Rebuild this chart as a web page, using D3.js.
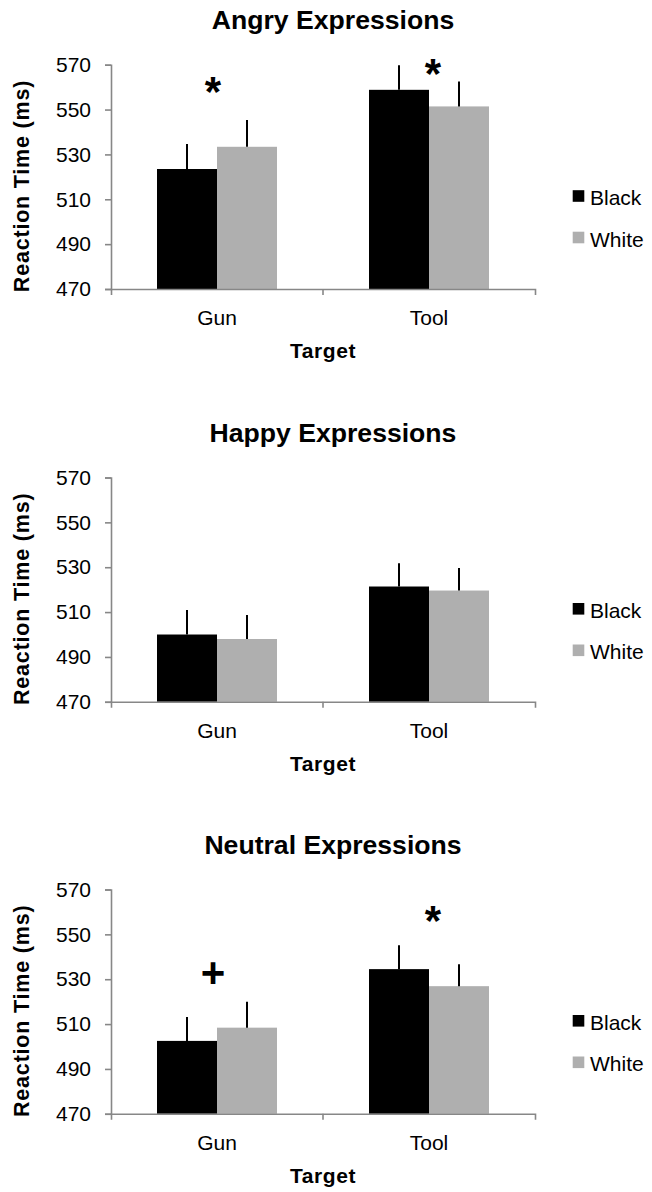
<!DOCTYPE html>
<html><head><meta charset="utf-8">
<script src="https://cdn.jsdelivr.net/npm/d3@7"></script>
<style>
body{margin:0;background:#fff}
svg{display:block;background:#fff}
text{font-family:"Liberation Sans",Arial,sans-serif;fill:#000}
</style>
</head><body>
<svg id="chart" width="652" height="1192"></svg>
<script>
// ---- data ----
const categories = ["Gun", "Tool"];
const seriesNames = ["Black", "White"];
const panelTitles = ["Angry Expressions", "Happy Expressions", "Neutral Expressions"];
const yTicks = [470, 490, 510, 530, 550, 570];
const yTitle = "Reaction Time (ms)";
const xTitle = "Target";

const angryBlack = [523.5, 558.8];
const angryWhite = [533.4, 551.4];
const angryBlackErr = [11.2, 11.0];
const angryWhiteErr = [12.0, 11.1];
const angryMarks = ["*", "*"];
const angryMarkLevels = [561.8, 569.8];

const happyBlack = [500.0, 521.4];
const happyWhite = [498.0, 519.6];
const happyBlackErr = [10.9, 10.4];
const happyWhiteErr = [10.7, 10.0];
const happyMarks = ["", ""];
const happyMarkLevels = [0, 0];

const neutralBlack = [502.5, 534.5];
const neutralWhite = [508.4, 526.9];
const neutralBlackErr = [10.7, 10.7];
const neutralWhiteErr = [11.6, 9.8];
const neutralMarks = ["+", "*"];
const neutralMarkLevels = [533.3, 559.9];

const panels = [
  {title: panelTitles[0], vals: [angryBlack, angryWhite], errs: [angryBlackErr, angryWhiteErr], marks: angryMarks, levels: angryMarkLevels},
  {title: panelTitles[1], vals: [happyBlack, happyWhite], errs: [happyBlackErr, happyWhiteErr], marks: happyMarks, levels: happyMarkLevels},
  {title: panelTitles[2], vals: [neutralBlack, neutralWhite], errs: [neutralBlackErr, neutralWhiteErr], marks: neutralMarks, levels: neutralMarkLevels}
];

// ---- layout ----
const colors = {Black: "#000000", White: "#afafaf"};
const axisColor = "#878787";
const offsets = [0, 412.8, 824.8];
const plotLeft = 111, plotRight = 535, plotTop = 64.7, plotBottom = 289;
const groupW = 120;

const svg = d3.select("#chart");

const x = d3.scaleBand().domain(categories).range([plotLeft, plotRight]);
const x1 = d3.scaleBand().domain(seriesNames).range([0, groupW]);

panels.forEach((p, pi) => {
  const o = offsets[pi];
  const g = svg.append("g");
  const y = d3.scaleLinear().domain([yTicks[0], yTicks[yTicks.length - 1]]).range([plotBottom + o, plotTop + o]);

  // title
  g.append("text").attr("x", 333).attr("y", o + 29.3)
    .attr("text-anchor", "middle").style("font-size", "26.6px").style("font-weight", "bold")
    .text(p.title);

  // y axis
  const ya = g.append("g").attr("transform", `translate(${plotLeft},0)`)
    .call(d3.axisLeft(y).tickValues(yTicks).tickSize(6).tickPadding(14).tickFormat(d3.format("d")));
  ya.selectAll("path,line").attr("stroke", axisColor).attr("stroke-width", 1.6);
  ya.selectAll("text").style("font-size", "21px").style("font-family", '"Liberation Sans",Arial,sans-serif').attr("fill", "#000");

  // y title
  g.append("text")
    .attr("transform", `translate(28.5,${o + 186}) rotate(-90)`)
    .attr("text-anchor", "middle")
    .style("font-size", "21.5px").style("font-weight", "bold").style("letter-spacing", "0.8px")
    .text(yTitle);

  // bars
  categories.forEach((c, ci) => {
    const gx = x(c) + x.bandwidth() / 2 - groupW / 2;
    seriesNames.forEach((s, si) => {
      const v = p.vals[si][ci];
      g.append("rect")
        .attr("x", gx + x1(s)).attr("width", x1.bandwidth())
        .attr("y", y(v)).attr("height", y(yTicks[0]) - y(v))
        .attr("fill", colors[s]);
    });
    seriesNames.forEach((s, si) => {
      const v = p.vals[si][ci], e = p.errs[si][ci];
      const cx = gx + x1(s) + x1.bandwidth() / 2;
      g.append("line").attr("x1", cx).attr("x2", cx)
        .attr("y1", y(v)).attr("y2", y(v + e))
        .attr("stroke", "#000").attr("stroke-width", 2);
    });
    // significance marks
    const m = p.marks[ci];
    if (m) {
      const fs = 42;
      const cx = x(c) + x.bandwidth() / 2 + (ci === 0 ? -4 : 4);
      const base = m === "*" ? y(p.levels[ci]) + 0.553 * fs : y(p.levels[ci]) + 0.355 * fs;
      g.append("text").attr("x", cx).attr("y", base)
        .attr("text-anchor", "middle").style("font-size", fs + "px").style("font-weight", "bold")
        .text(m);
    }
  });

  // x axis
  const xa = g.append("g").attr("transform", `translate(0,${y(yTicks[0])})`)
    .call(d3.axisBottom(x).tickSize(0).tickSizeOuter(6).tickPadding(21));
  xa.selectAll("path").attr("stroke", axisColor).attr("stroke-width", 1.6);
  xa.selectAll("text").style("font-size", "21px").style("font-family", '"Liberation Sans",Arial,sans-serif').attr("fill", "#000");
  // boundary tick between categories
  xa.append("line").attr("x1", x(categories[1])).attr("x2", x(categories[1]))
    .attr("y1", 0).attr("y2", 6).attr("stroke", axisColor).attr("stroke-width", 1.6);

  // x title
  g.append("text").attr("x", (plotLeft + plotRight) / 2).attr("y", y(yTicks[0]) + 69)
    .attr("text-anchor", "middle").style("font-size", "21px").style("font-weight", "bold")
    .style("letter-spacing", "0.6px").text(xTitle);

  // legend
  seriesNames.forEach((s, si) => {
    const ly = o + 196 + si * 41.5;
    g.append("rect").attr("x", 572.7).attr("y", ly - 5.8).attr("width", 11.6).attr("height", 11.6)
      .attr("fill", colors[s]);
    g.append("text").attr("x", 590).attr("y", ly + 9).style("font-size", "21px").text(s);
  });
});
</script>
</body></html>
